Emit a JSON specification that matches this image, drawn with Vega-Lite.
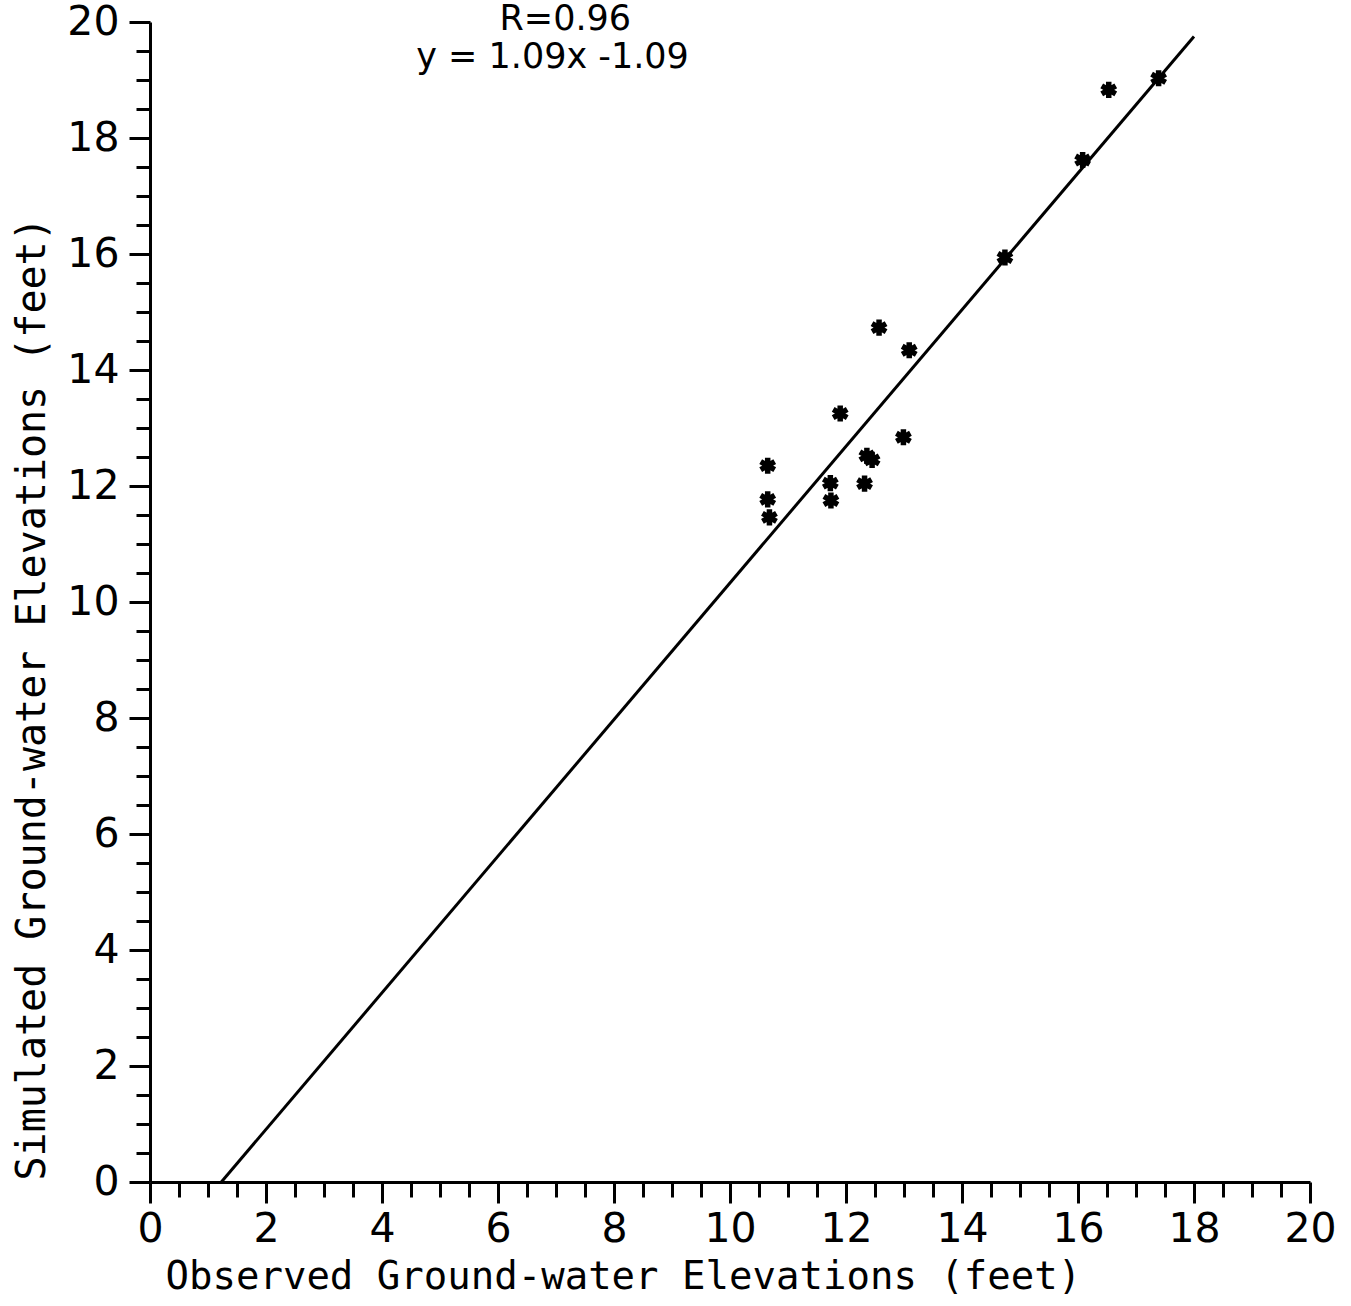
{
  "$schema": "https://vega.github.io/schema/vega-lite/v6.json",
  "width": 1160,
  "height": 1160,
  "autosize": "none",
  "padding": {"left": 150, "top": 22, "right": 41, "bottom": 124},
  "background": "white",
  "config": {
    "view": {"stroke": null},
    "axis": {
      "grid": false,
      "domainColor": "black",
      "domainWidth": 3,
      "tickColor": "black",
      "tickWidth": 3,
      "labelFont": "DejaVu Sans",
      "labelFontSize": 41,
      "labelColor": "black",
      "labelOverlap": false,
      "labelFlush": false,
      "titleFont": "DejaVu Sans Mono",
      "titleFontSize": 39,
      "titleFontWeight": "normal",
      "titleColor": "black"
    }
  },
  "datasets": {
    "wells": [
      {"obs": 10.65, "sim": 12.35},
      {"obs": 10.65, "sim": 11.77},
      {"obs": 10.68, "sim": 11.46},
      {"obs": 11.73, "sim": 12.05},
      {"obs": 11.74, "sim": 11.75},
      {"obs": 11.9, "sim": 13.25},
      {"obs": 12.32, "sim": 12.04},
      {"obs": 12.36, "sim": 12.52},
      {"obs": 12.45, "sim": 12.45},
      {"obs": 12.57, "sim": 14.73},
      {"obs": 12.99, "sim": 12.84},
      {"obs": 13.09, "sim": 14.34},
      {"obs": 14.74, "sim": 15.94},
      {"obs": 16.08, "sim": 17.62},
      {"obs": 16.53, "sim": 18.83},
      {"obs": 17.39, "sim": 19.03}
    ],
    "fit": [
      {"obs": 1.23, "sim": 0},
      {"obs": 18.0, "sim": 19.75}
    ],
    "notes": [
      {"obs": 7.16, "sim": 19.87, "label": "R=0.96"},
      {"obs": 6.94, "sim": 19.2, "label": "y = 1.09x -1.09"}
    ]
  },
  "encoding": {
    "x": {
      "field": "obs",
      "type": "quantitative",
      "scale": {"domain": [0, 20], "nice": false, "zero": false},
      "axis": {
        "values": [0, 0.5, 1, 1.5, 2, 2.5, 3, 3.5, 4, 4.5, 5, 5.5, 6, 6.5, 7, 7.5, 8, 8.5, 9, 9.5, 10, 10.5, 11, 11.5, 12, 12.5, 13, 13.5, 14, 14.5, 15, 15.5, 16, 16.5, 17, 17.5, 18, 18.5, 19, 19.5, 20],
        "labelExpr": "datum.value % 2 === 0 ? '' + datum.value : ''",
        "tickSize": {"condition": {"test": "datum.value % 2 === 0", "value": 21}, "value": 15},
        "labelPadding": 6,
        "title": "Observed Ground-water Elevations (feet)",
        "titleX": 15,
        "titleY": 106,
        "titleAlign": "left",
        "titleBaseline": "alphabetic"
      }
    },
    "y": {
      "field": "sim",
      "type": "quantitative",
      "scale": {"domain": [0, 20], "nice": false, "zero": false},
      "axis": {
        "values": [0, 0.5, 1, 1.5, 2, 2.5, 3, 3.5, 4, 4.5, 5, 5.5, 6, 6.5, 7, 7.5, 8, 8.5, 9, 9.5, 10, 10.5, 11, 11.5, 12, 12.5, 13, 13.5, 14, 14.5, 15, 15.5, 16, 16.5, 17, 17.5, 18, 18.5, 19, 19.5, 20],
        "labelExpr": "datum.value % 2 === 0 ? '' + datum.value : ''",
        "tickSize": {"condition": {"test": "datum.value % 2 === 0", "value": 21}, "value": 14},
        "labelPadding": 10,
        "title": "Simulated Ground-water Elevations (feet)",
        "titleFontSize": 40,
        "titleAngle": 270,
        "titleX": -106,
        "titleY": 1158,
        "titleAlign": "left",
        "titleBaseline": "alphabetic"
      }
    }
  },
  "layer": [
    {
      "data": {"name": "fit"},
      "mark": {"type": "line", "color": "black", "strokeWidth": 3}
    },
    {
      "data": {"name": "wells"},
      "mark": {
        "type": "point",
        "shape": "M0,-1L0,1M-0.87,-0.5L0.87,0.5M-0.87,0.5L0.87,-0.5",
        "filled": false,
        "color": "black",
        "strokeWidth": 5.5,
        "size": 260,
        "opacity": 1
      }
    },
    {
      "data": {"name": "notes"},
      "mark": {
        "type": "text",
        "font": "DejaVu Sans",
        "fontSize": 35,
        "color": "black",
        "align": "center",
        "baseline": "alphabetic"
      },
      "encoding": {"text": {"field": "label"}}
    }
  ]
}
